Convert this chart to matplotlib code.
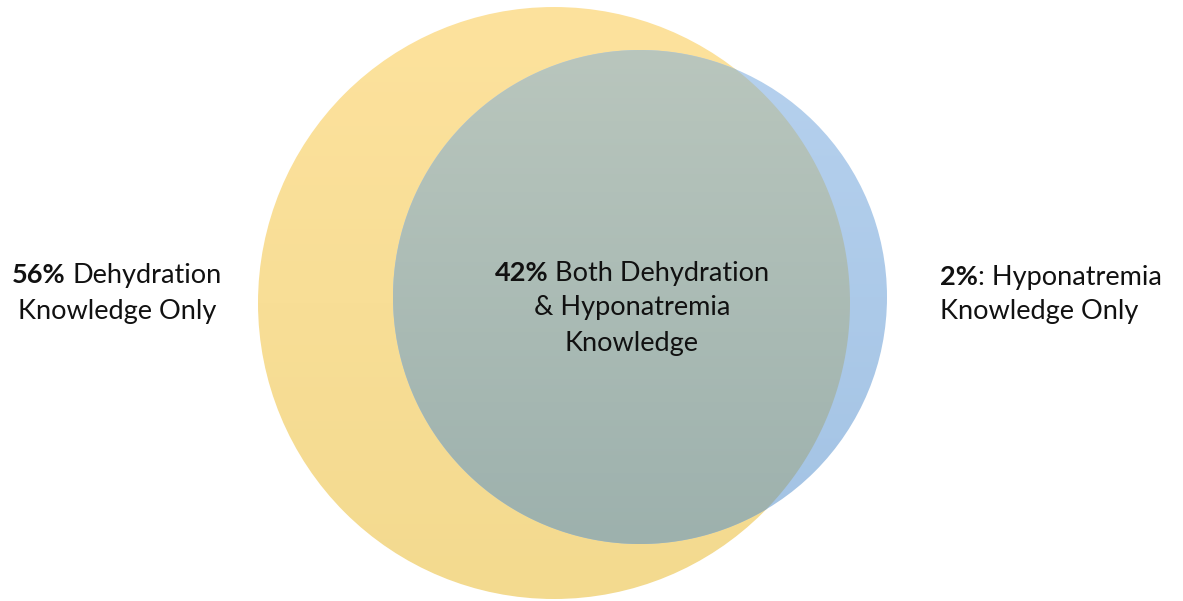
import numpy as np
import matplotlib
matplotlib.use("Agg")
import matplotlib.pyplot as plt
from matplotlib.patches import Circle, PathPatch
from matplotlib.path import Path
from matplotlib.colors import LinearSegmentedColormap

# survey shares
pct_dehydration_only = 56
pct_both = 42
pct_hyponatremia_only = 2

left_lines = [[(f"{pct_dehydration_only}%", "bold"), (" Dehydration", "normal")],
              [("Knowledge Only", "normal")]]
center_lines = [[(f"{pct_both}%", "bold"), (" Both Dehydration", "normal")],
                [("& Hyponatremia", "normal")],
                [("Knowledge", "normal")]]
right_lines = [[(f"{pct_hyponatremia_only}%", "bold"), (": Hyponatremia", "normal")],
               [("Knowledge Only", "normal")]]

# circle geometry in pixel space (y down)
yel_c, yel_r = (554, 303), 296
blu_c, blu_r = (640, 297), 247

yel_cols = ["#FDE29D", "#F3DA8F"]
blu_cols = ["#B6D1EE", "#A3C3E4"]
both_cols = ["#B9C6BD", "#9DB1AD"]

FONT = ["Lato", "DejaVu Sans"]
FS = 19.5

W, H = 1183, 601
fig = plt.figure(figsize=(W / 100, H / 100), dpi=100)
ax = fig.add_axes([0, 0, 1, 1])
ax.set_xlim(0, W)
ax.set_ylim(H, 0)
ax.axis("off")


def grad_fill(clip_patch, cols, y0, y1, x0, x1):
    cmap = LinearSegmentedColormap.from_list("g", cols)
    g = np.linspace(0, 1, 256).reshape(-1, 1)
    im = ax.imshow(g, cmap=cmap, extent=(x0, x1, y1, y0), aspect="auto",
                   interpolation="bilinear", zorder=1)
    ax.add_patch(clip_patch)
    clip_patch.set_visible(False)
    im.set_clip_path(clip_patch)


def circ_points(c, r, a0, a1, n=300):
    t = np.linspace(a0, a1, n)
    return np.column_stack([c[0] + r * np.cos(t), c[1] + r * np.sin(t)])


# yellow and blue circles
yc = Circle(yel_c, yel_r)
grad_fill(yc, yel_cols, yel_c[1] - yel_r, yel_c[1] + yel_r, yel_c[0] - yel_r, yel_c[0] + yel_r)
bc = Circle(blu_c, blu_r)
grad_fill(bc, blu_cols, blu_c[1] - blu_r, blu_c[1] + blu_r, blu_c[0] - blu_r, blu_c[0] + blu_r)

# overlap lens
c1, c2 = np.array(yel_c, float), np.array(blu_c, float)
d = np.linalg.norm(c2 - c1)
a = (yel_r ** 2 - blu_r ** 2 + d ** 2) / (2 * d)
h = np.sqrt(yel_r ** 2 - a ** 2)
u = (c2 - c1) / d
base = c1 + a * u
perp = np.array([-u[1], u[0]])
p_a, p_b = base + h * perp, base - h * perp
ang = lambda c, p: np.arctan2(p[1] - c[1], p[0] - c[0])
# blue arc: the part inside the yellow circle
ba0, ba1 = ang(c2, p_a), ang(c2, p_b)
if ba1 < ba0:
    ba1 += 2 * np.pi
pts_b = circ_points(c2, blu_r, ba0, ba1)
mid = pts_b[len(pts_b) // 2]
if np.linalg.norm(mid - c1) > yel_r:
    pts_b = circ_points(c2, blu_r, ba0, ba1 - 2 * np.pi)
# yellow arc: the part inside the blue circle
ya0, ya1 = ang(c1, p_b), ang(c1, p_a)
if ya1 < ya0:
    ya1 += 2 * np.pi
pts_y = circ_points(c1, yel_r, ya0, ya1)
mid = pts_y[len(pts_y) // 2]
if np.linalg.norm(mid - c2) > blu_r:
    pts_y = circ_points(c1, yel_r, ya0, ya1 - 2 * np.pi)
lens = np.vstack([pts_b, pts_y, pts_b[:1]])
lens_patch = PathPatch(Path(lens, closed=True))
grad_fill(lens_patch, both_cols, lens[:, 1].min(), lens[:, 1].max(),
          lens[:, 0].min(), lens[:, 0].max())

# text
fig.canvas.draw()
renderer = fig.canvas.get_renderer()


def text_width(s, w):
    t = ax.text(0, 0, s, fontsize=FS, fontweight=w, family=FONT)
    wd = t.get_window_extent(renderer).width
    t.remove()
    return wd


space_w = text_width("a a", "normal") - text_width("aa", "normal")


def rich_line(x, y, parts, ha="center"):
    widths = []
    for s, w in parts:
        lead = len(s) - len(s.lstrip(" "))
        widths.append(text_width(s.strip(" "), w) + lead * space_w)
    total = sum(widths)
    xs = x - total / 2 if ha == "center" else x
    for (s, w), wd in zip(parts, widths):
        lead = len(s) - len(s.lstrip(" "))
        ax.text(xs + lead * space_w, y, s.strip(" "), fontsize=FS, fontweight=w,
                family=FONT, ha="left", va="center", color="#111111", zorder=5)
        xs += wd


for i, line in enumerate(left_lines):
    rich_line(117, 275 + i * 37, line)
for i, line in enumerate(center_lines):
    rich_line(632, 273 + i * 35, line)
for i, line in enumerate(right_lines):
    rich_line(940, 277 + i * 35, line, ha="left")

fig.savefig("out.png", dpi=100, facecolor="white")
